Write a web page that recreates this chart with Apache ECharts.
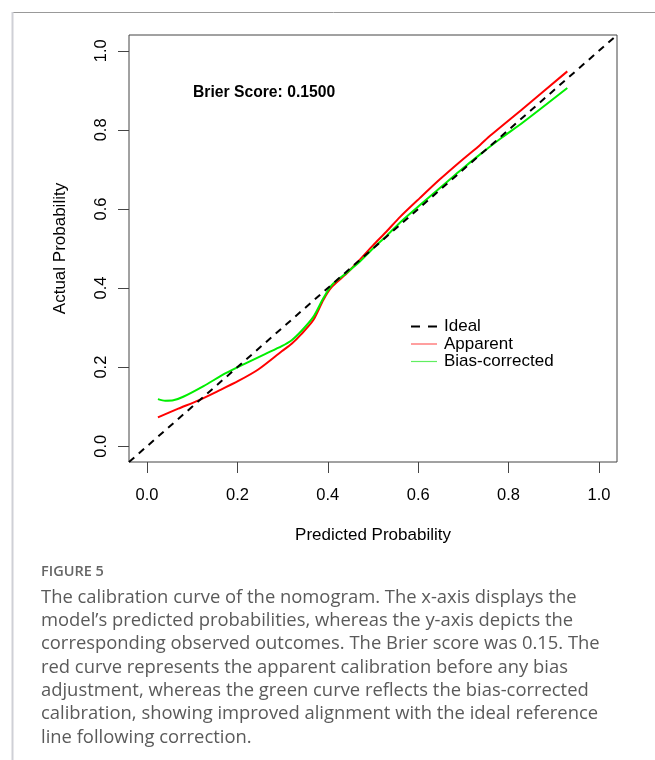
<!DOCTYPE html>
<html>
<head>
<meta charset="utf-8">
<script src="https://cdn.jsdelivr.net/npm/echarts@6/dist/echarts.min.js"></script>
<style>
html,body{margin:0;padding:0;background:#fff;}
#chart{width:655px;height:760px;}
</style>
</head>
<body>
<div id="chart"></div>
<script>
// ---- data ----
const tickValues = [0, 0.2, 0.4, 0.6, 0.8, 1.0];
const tickLabels = ['0.0', '0.2', '0.4', '0.6', '0.8', '1.0'];
const idealX = [-0.04, 1.04];
const idealY = [-0.04, 1.04];
const apparentX = [0.024, 0.069, 0.114, 0.158, 0.202, 0.246, 0.298, 0.320, 0.342, 0.368, 0.390, 0.409, 0.442, 0.471, 0.500, 0.530, 0.560, 0.604, 0.648, 0.692, 0.737, 0.759, 0.833, 0.930];
const apparentY = [0.073, 0.095, 0.116, 0.140, 0.165, 0.194, 0.240, 0.259, 0.284, 0.319, 0.370, 0.403, 0.437, 0.472, 0.508, 0.543, 0.580, 0.628, 0.675, 0.719, 0.762, 0.785, 0.855, 0.948];
const biasX = [0.024, 0.040, 0.058, 0.080, 0.125, 0.173, 0.217, 0.261, 0.298, 0.320, 0.342, 0.368, 0.390, 0.409, 0.442, 0.471, 0.500, 0.530, 0.560, 0.604, 0.648, 0.692, 0.737, 0.781, 0.833, 0.930];
const biasY = [0.119, 0.115, 0.116, 0.125, 0.152, 0.184, 0.209, 0.233, 0.253, 0.268, 0.292, 0.327, 0.374, 0.408, 0.439, 0.467, 0.500, 0.532, 0.566, 0.610, 0.653, 0.696, 0.738, 0.777, 0.820, 0.906];
const seriesNames = ['Ideal', 'Apparent', 'Bias-corrected'];
const brierText = 'Brier Score: 0.1500';
const xTitle = 'Predicted Probability';
const yTitle = 'Actual Probability';
const figLabel = 'FIGURE 5';
const captionLines = [
  'The calibration curve of the nomogram. The x-axis displays the',
  'model\u2019s predicted probabilities, whereas the y-axis depicts the',
  'corresponding observed outcomes. The Brier score was 0.15. The',
  'red curve represents the apparent calibration before any bias',
  'adjustment, whereas the green curve reflects the bias-corrected',
  'calibration, showing improved alignment with the ideal reference',
  'line following correction.'
];

const zip = (xs, ys) => xs.map((x, i) => [x, ys[i]]);
const FONT = 'Liberation Sans, Arial, sans-serif';
const RED = '#ff0000', GREEN = '#00ee00';

const chart = echarts.init(document.getElementById('chart'), null, {renderer: 'canvas'});
const axisCommon = {
  type: 'value', min: -0.04, max: 1.04,
  splitLine: {show: false},
  axisLine: {show: false, onZero: false},
  axisTick: {show: true, customValues: tickValues, length: 11, inside: false, lineStyle: {color: '#444', width: 1}},
  axisLabel: {
    customValues: tickValues,
    formatter: v => { const i = tickValues.findIndex(t => Math.abs(t - v) < 1e-9); return i >= 0 ? tickLabels[i] : ''; },
    color: '#000', fontFamily: FONT, fontSize: 16.5
  },
  nameLocation: 'middle',
  nameTextStyle: {color: '#000', fontFamily: FONT, fontSize: 17}
};

chart.setOption({
  animation: false,
  backgroundColor: '#fff',
  grid: {left: 129, right: 38, top: 35, bottom: 298, show: true, borderColor: '#444', borderWidth: 1, backgroundColor: 'transparent'},
  xAxis: Object.assign({}, axisCommon, {
    name: xTitle, nameGap: 65,
    axisLabel: Object.assign({}, axisCommon.axisLabel, {margin: 25})
  }),
  yAxis: Object.assign({}, axisCommon, {
    name: yTitle, nameGap: 60,
    axisLabel: Object.assign({}, axisCommon.axisLabel, {margin: 19, rotate: 90})
  }),
  legend: {
    orient: 'vertical', left: 406, top: 313,
    itemWidth: 26, itemHeight: 14, itemGap: 0.5,
    textStyle: {color: '#000', fontFamily: FONT, fontSize: 17, padding: [0, 0, 0, 2]},
    data: [
      {name: seriesNames[0], icon: 'path://M0,6L9,6L9,8L0,8ZM17,6L26,6L26,8L17,8Z', itemStyle: {color: '#000'}},
      {name: seriesNames[1], icon: 'path://M0,6.5L26,6.5L26,7.7L0,7.7Z', itemStyle: {color: '#ff6060'}},
      {name: seriesNames[2], icon: 'path://M0,6.5L26,6.5L26,7.7L0,7.7Z', itemStyle: {color: '#60ee60'}}
    ]
  },
  series: [
    {name: seriesNames[0], type: 'line', data: zip(idealX, idealY), symbol: 'none', silent: true,
     lineStyle: {color: '#000', width: 2, type: [7, 6]}, itemStyle: {color: '#000'}, z: 3},
    {name: seriesNames[1], type: 'line', data: zip(apparentX, apparentY), symbol: 'none', smooth: 0.25,
     lineStyle: {color: RED, width: 2}, itemStyle: {color: RED}, z: 2},
    {name: seriesNames[2], type: 'line', data: zip(biasX, biasY), symbol: 'none', smooth: 0.25,
     lineStyle: {color: GREEN, width: 2}, itemStyle: {color: GREEN}, z: 2}
  ],
  graphic: [
    {type: 'line', shape: {x1: 12, y1: 12.5, x2: 655, y2: 12.5}, style: {stroke: '#999', lineWidth: 1}},
    {type: 'line', shape: {x1: 12.5, y1: 12, x2: 12.5, y2: 760}, style: {stroke: '#cfd0d6', lineWidth: 2}},
    {type: 'text', left: 193, top: 85, style: {text: brierText, font: 'bold 15.7px ' + FONT, fill: '#000'}},
    {type: 'text', left: 41, top: 564, style: {text: figLabel, font: '600 14.5px "Open Sans", Lato, sans-serif', fill: '#666'}},
    {type: 'text', left: 41, top: 586, style: {text: captionLines.join('\n'), font: '18.4px "Open Sans", Lato, sans-serif', lineHeight: 23.3, fill: '#5a5a5a'}}
  ]
});
</script>
</body>
</html>
